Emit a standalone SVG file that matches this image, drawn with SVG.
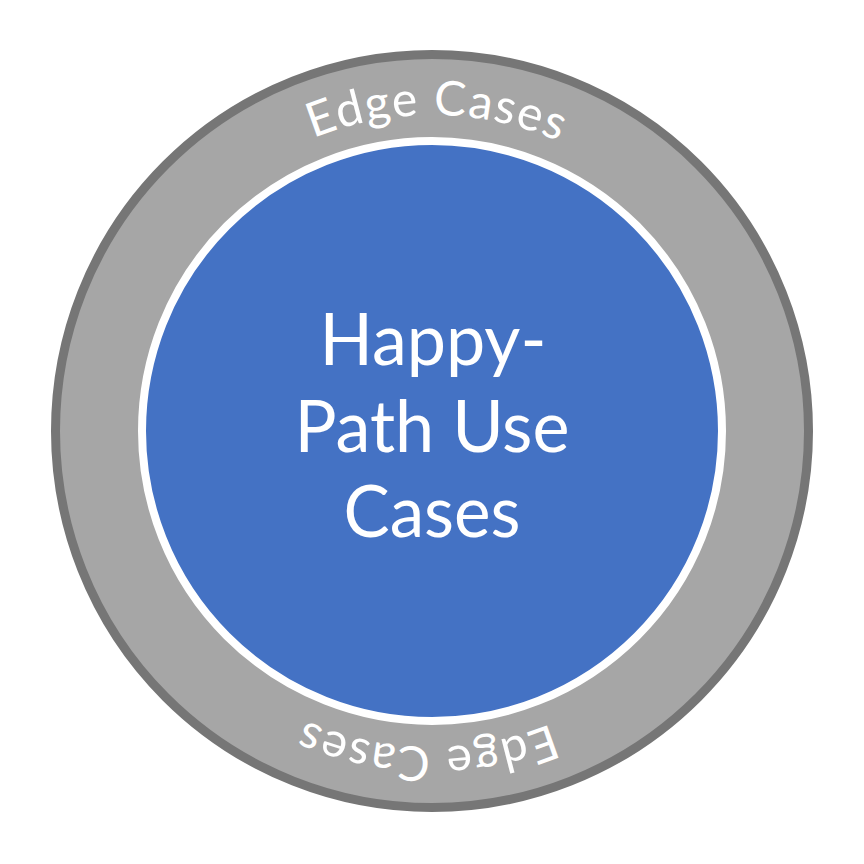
<svg xmlns="http://www.w3.org/2000/svg" xmlns:xlink="http://www.w3.org/1999/xlink" width="864" height="864" viewBox="0 0 864 864">
  <style>
    .ring { fill: #A6A6A6; stroke: #767676; stroke-width: 9; }
    .core { fill: #4472C4; stroke: #FFFFFF; stroke-width: 8; }
    .arcLabel { font-family: Lato, "Open Sans", "Liberation Sans", sans-serif; font-size: 48px; letter-spacing: 1.5px; fill: #FFFFFF; }
    .mainLabel { font-family: Lato, "Open Sans", "Liberation Sans", sans-serif; font-size: 72px; fill: #FFFFFF; text-anchor: middle; }
  </style>
  <defs>
    <path id="topArc" d="M 116,431 A 316,316 0 0 1 748,431"/>
  </defs>
  <rect width="864" height="864" fill="#FFFFFF"/>
  <g id="edge-cases">
    <circle class="ring" cx="432" cy="431" r="376.5"/>
    <text class="arcLabel"><textPath xlink:href="#topArc" href="#topArc" startOffset="50.5%" text-anchor="middle">Edge Cases</textPath></text>
    <g transform="rotate(180 432 431)">
      <text class="arcLabel"><textPath xlink:href="#topArc" href="#topArc" startOffset="50.5%" text-anchor="middle">Edge Cases</textPath></text>
    </g>
  </g>
  <g id="happy-path">
    <circle class="core" cx="432" cy="431" r="290"/>
    <text class="mainLabel" x="433" y="365" textLength="227" lengthAdjust="spacingAndGlyphs">Happy-</text>
    <text class="mainLabel" x="432" y="452" textLength="275" lengthAdjust="spacingAndGlyphs">Path Use</text>
    <text class="mainLabel" x="432" y="537" textLength="177" lengthAdjust="spacingAndGlyphs">Cases</text>
  </g>
</svg>
